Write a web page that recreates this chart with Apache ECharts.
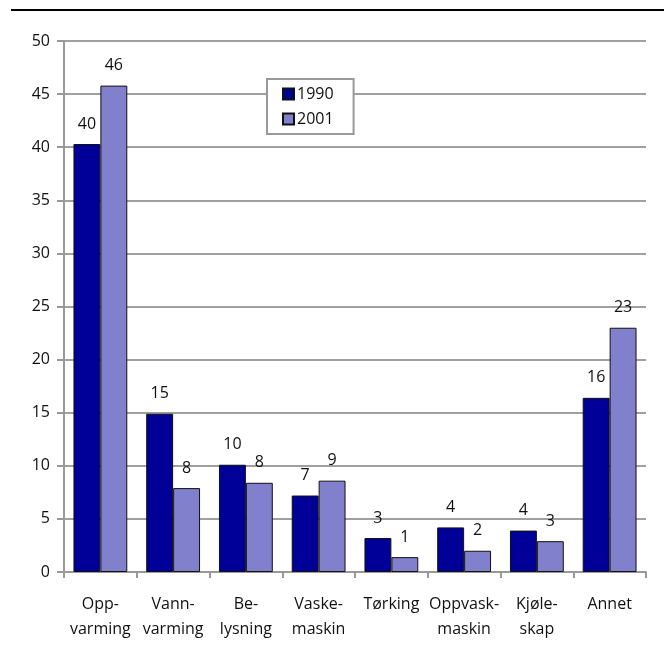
<!DOCTYPE html>
<html>
<head>
<meta charset="utf-8">
<script src="https://cdn.jsdelivr.net/npm/echarts@6/dist/echarts.min.js"></script>
<style>
  html, body { margin: 0; padding: 0; background: #fff; }
  #chart { width: 664px; height: 653px; }
</style>
</head>
<body>
<div id="chart"></div>
<script>
// Energy use by purpose, 1990 vs 2001
const categories = ['Opp-\nvarming', 'Vann-\nvarming', 'Be-\nlysning', 'Vaske-\nmaskin', 'Tørking', 'Oppvask-\nmaskin', 'Kjøle-\nskap', 'Annet'];
const values1990 = [40.3, 14.9, 10.1, 7.2, 3.2, 4.2, 3.9, 16.4];
const values2001 = [45.8, 7.9, 8.4, 8.6, 1.4, 2.0, 2.9, 23.0];
const seriesNames = ['1990', '2001'];

const FONT = '"Open Sans", "Noto Sans", sans-serif';
const chart = echarts.init(document.getElementById('chart'), null, { renderer: 'canvas' });

const labelStyle = {
  show: true,
  position: 'top',
  distance: 12,
  fontFamily: FONT,
  fontSize: 16,
  color: '#111',
  formatter: p => String(Math.round(p.value))
};

chart.setOption({
  animation: false,
  backgroundColor: '#fff',
  textStyle: { fontFamily: FONT },
  graphic: [{
    type: 'line',
    shape: { x1: 11, y1: 10, x2: 664, y2: 10 },
    style: { stroke: '#000', lineWidth: 2 }
  }],
  legend: {
    data: seriesNames,
    orient: 'vertical',
    left: 267,
    top: 79,
    padding: [7, 20, 7, 15],
    itemGap: 9,
    itemWidth: 11,
    itemHeight: 11,
    backgroundColor: '#fff',
    borderColor: '#999',
    borderWidth: 2,
    borderRadius: 0,
    textStyle: { fontFamily: FONT, fontSize: 16, color: '#111', padding: [0, 0, 0, -2] },
    icon: 'rect'
  },
  grid: { left: 64, right: 18, top: 41, bottom: 81, containLabel: false },
  xAxis: {
    type: 'category',
    data: categories,
    axisLine: { lineStyle: { color: '#999', width: 2 } },
    axisTick: { show: true, length: 6, lineStyle: { color: '#999', width: 2 } },
    axisLabel: { fontFamily: FONT, fontSize: 16, color: '#111', margin: 20, lineHeight: 25, interval: 0 }
  },
  yAxis: {
    type: 'value',
    min: 0,
    max: 50,
    interval: 5,
    axisLine: { show: true, lineStyle: { color: '#999', width: 2 } },
    axisTick: { show: true, length: 7, lineStyle: { color: '#999', width: 2 } },
    axisLabel: { fontFamily: FONT, fontSize: 16, color: '#111', margin: 14 },
    splitLine: { lineStyle: { color: '#a0a0a0', width: 2 } }
  },
  series: [
    {
      name: seriesNames[0],
      type: 'bar',
      data: values1990,
      barGap: '0%',
      barCategoryGap: '26%',
      itemStyle: { color: '#000099', borderColor: '#111', borderWidth: 1 },
      label: labelStyle
    },
    {
      name: seriesNames[1],
      type: 'bar',
      data: values2001,
      itemStyle: { color: '#8080cc', borderColor: '#111', borderWidth: 1 },
      label: labelStyle
    }
  ]
});
</script>
</body>
</html>
